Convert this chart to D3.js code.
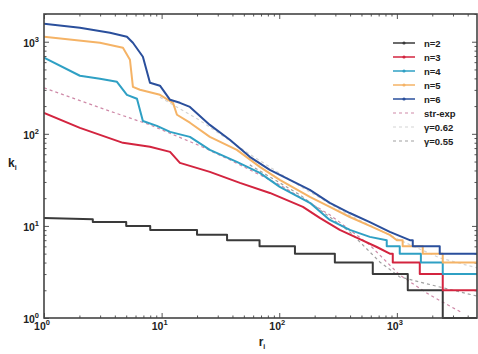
<!DOCTYPE html>
<html>
<head>
<meta charset="utf-8">
<script src="https://cdn.jsdelivr.net/npm/d3@7"></script>
<style>
  body { margin: 0; background: #fff; }
  svg { display: block; font-family: "Liberation Sans", Arial, sans-serif; }
</style>
</head>
<body>
<div id="chart"></div>
<script>
// rank r_i vs degree k_i
const n2 = [[1,12.2],[2.6,11.8],[2.6,11],[5,11],[5,10],[8,10],[8,9],[20,9],[20,8],[36,8],[36,7],[68,7],[68,6],
  [136,6],[136,5],[297,5],[297,4],[624,4],[624,3],[1238,3],[1238,2],[2455,2],[2455,1],[4800,1]];
const n3 = [[1,169],[2.02,116],[4.69,79.8],[7.96,72.2],[11.8,63.7],[14.3,48.4],[25.7,38.6],[46.3,29.3],
  [83.2,22.8],[159,16.1],[221,12.2],[327,9.05],[484,7.2],[675,5.9],[871,5],[923,5],[923,4],[1566,4],
  [1566,3],[2455,3],[2455,2],[4800,2]];
const n4 = [[1,670],[2.02,427],[2.99,396],[4.17,367],[5.07,265],[6.17,240],[6.93,138],[9.12,122],[11.8,105],
  [17.4,92.7],[25.7,67],[43.6,49.6],[68.4,37.7],[101,26.5],[182,17.8],[269,11.6],[398,9.05],[589,7.6],
  [820,7],[820,6],[1058,6],[1058,5],[1600,5],[1600,4],[2455,4],[2455,3],[4800,3]];
const n5 = [[1,1133],[2.99,975],[4.69,861],[5.38,637],[5.7,324],[6.54,301],[9.68,265],[12.5,217],[13.5,161],
  [17.4,132],[25.7,92.7],[43.6,67],[68.4,43.8],[101,31.6],[182,20.7],[269,16.1],[398,12.5],[589,10],
  [871,8],[1000,7],[1120,7],[1120,6],[1660,6],[1660,5],[2455,5],[2455,4],[4800,4]];
const n6 = [[1,1570],[2.02,1419],[3.64,1253],[5.07,1133],[5.7,975],[6.93,687],[7.96,358],[9.68,333],
  [11.8,234],[14.3,217],[17.4,196],[25.7,125],[38,86.1],[56.2,56.2],[83.2,40.6],[123,31.6],[182,24.6],
  [269,17.8],[398,13.8],[589,11],[871,8.6],[1288,7],[1365,7],[1365,6],[2314,6],[2314,5],[4800,5]];
const strExp = [[1,316],[2.99,192],[7.96,125],[21.1,74.1],[38,52.2],[101,27.9],[269,13.2],[589,6.2],
  [1058,2.93],[1904,1.78],[3630,1.13]];
const gamma62 = [[9.68,250],[21.1,140],[56.2,60],[150,27],[398,13],[1058,7],[2314,4.5],[4800,3.5]];
const gamma55 = [[56.2,46],[150,21.7],[398,8.6],[716,4.06],[1058,2.79],[2314,2.17],[4800,1.73]];

const xTickLabels = [[1,'0'],[10,'1'],[100,'2'],[1000,'3']];
const yTickLabels = [[1,'0'],[10,'1'],[100,'2'],[1000,'3']];

const series = [
  {label:'n=2', data:n2, color:'#3a3a3a', dash:null, w:2},
  {label:'n=3', data:n3, color:'#d3243f', dash:null, w:2},
  {label:'n=4', data:n4, color:'#2fa0c4', dash:null, w:2},
  {label:'n=5', data:n5, color:'#f5b366', dash:null, w:2},
  {label:'n=6', data:n6, color:'#2a4f9c', dash:null, w:2},
  {label:'str-exp', data:strExp, color:'#cf8aa8', dash:'3,3', w:1.2},
  {label:'\u03b3=0.62', data:gamma62, color:'#d4d4d4', dash:'3,3', w:1.2},
  {label:'\u03b3=0.55', data:gamma55, color:'#a0a0a0', dash:'3,3', w:1.2}
];

const width = 478, height = 354;
const plot = {left:44, right:477, top:14, bottom:318};

const x = d3.scaleLog().domain([1, 4800]).range([plot.left, plot.right]);
const y = d3.scaleLog().domain([1, 2000]).range([plot.bottom, plot.top]);

const svg = d3.select('#chart').append('svg')
  .attr('width', width).attr('height', height);

svg.append('defs').append('clipPath').attr('id', 'clip')
  .append('rect')
  .attr('x', plot.left).attr('y', plot.top - 1)
  .attr('width', plot.right - plot.left).attr('height', plot.bottom - plot.top + 2);

const isMajor = v => Math.abs(Math.log10(v) - Math.round(Math.log10(v))) < 1e-9;

// axes with inward ticks on all four sides
const xt = x.ticks(), yt = y.ticks();
const styleAxis = (g, minorAttr, minorLen) => {
  g.select('.domain').remove();
  g.selectAll('.tick line').attr('stroke', '#555').attr('stroke-width', 1);
  g.selectAll('.tick').filter(d => !isMajor(d)).select('line').attr(minorAttr, minorLen);
};
svg.append('g').attr('transform', 'translate(0,' + plot.bottom + ')')
  .call(d3.axisBottom(x).tickValues(xt).tickSize(-5).tickFormat(''))
  .call(g => styleAxis(g, 'y2', -2.5));
svg.append('g').attr('transform', 'translate(0,' + plot.top + ')')
  .call(d3.axisTop(x).tickValues(xt).tickSize(-5).tickFormat(''))
  .call(g => styleAxis(g, 'y2', 2.5));
svg.append('g').attr('transform', 'translate(' + plot.left + ',0)')
  .call(d3.axisLeft(y).tickValues(yt).tickSize(-5).tickFormat(''))
  .call(g => styleAxis(g, 'x2', 2.5));
svg.append('g').attr('transform', 'translate(' + plot.right + ',0)')
  .call(d3.axisRight(y).tickValues(yt).tickSize(-5).tickFormat(''))
  .call(g => styleAxis(g, 'x2', -2.5));

// lines
const line = d3.line().x(d => x(d[0])).y(d => y(d[1]));
const lines = svg.append('g').attr('clip-path', 'url(#clip)');
// fits first, data on top
[...series.slice(5), ...series.slice(0, 5)].forEach(s => {
  lines.append('path')
    .attr('d', line(s.data))
    .attr('fill', 'none')
    .attr('stroke', s.color)
    .attr('stroke-width', s.w)
    .attr('stroke-linejoin', 'round')
    .attr('stroke-dasharray', s.dash);
});

// frame
svg.append('rect')
  .attr('x', plot.left).attr('y', plot.top)
  .attr('width', plot.right - plot.left).attr('height', plot.bottom - plot.top)
  .attr('fill', 'none').attr('stroke', '#444').attr('stroke-width', 1.6);

// tick labels
const pow = (sel, exp) => {
  sel.append('tspan').text('10');
  sel.append('tspan').attr('dy', -5).attr('font-size', 7.5).text(exp);
};
xTickLabels.forEach(([v, e]) => {
  svg.append('text').attr('x', x(v) - 2).attr('y', plot.bottom + 12)
    .attr('text-anchor', 'middle').attr('font-size', 10.5).attr('font-weight', 'bold')
    .attr('fill', '#222').call(t => pow(t, e));
});
yTickLabels.forEach(([v, e]) => {
  svg.append('text').attr('x', plot.left - 5).attr('y', y(v) + 5)
    .attr('text-anchor', 'end').attr('font-size', 10.5).attr('font-weight', 'bold')
    .attr('fill', '#222').call(t => pow(t, e));
});

// axis titles
const sub = (sel, main, s) => {
  sel.append('tspan').text(main);
  sel.append('tspan').attr('dy', 3).attr('font-size', 7).text(s);
};
svg.append('text').attr('x', 262).attr('y', 346).attr('text-anchor', 'middle')
  .attr('font-size', 12).attr('font-weight', 'bold').attr('fill', '#222').call(t => sub(t, 'r', 'i'));
svg.append('text').attr('x', 8).attr('y', 167)
  .attr('font-size', 12).attr('font-weight', 'bold').attr('fill', '#222').call(t => sub(t, 'k', 'i'));

// legend
const legend = svg.append('g').attr('transform', 'translate(393,43)');
series.forEach((s, i) => {
  const row = legend.append('g').attr('transform', 'translate(0,' + (i * 14) + ')');
  row.append('line').attr('x1', 0).attr('x2', 22).attr('y1', 0).attr('y2', 0)
    .attr('stroke', s.color).attr('stroke-width', s.dash ? 1.2 : 1.5)
    .attr('stroke-dasharray', s.dash);
  if (!s.dash) {
    row.append('circle').attr('cx', 11).attr('cy', 0).attr('r', 1.6).attr('fill', s.color);
  }
  row.append('text').attr('x', 31).attr('y', 3.5)
    .attr('font-size', 9.5).attr('font-weight', 'bold').attr('fill', '#222').text(s.label);
});
</script>
</body>
</html>
